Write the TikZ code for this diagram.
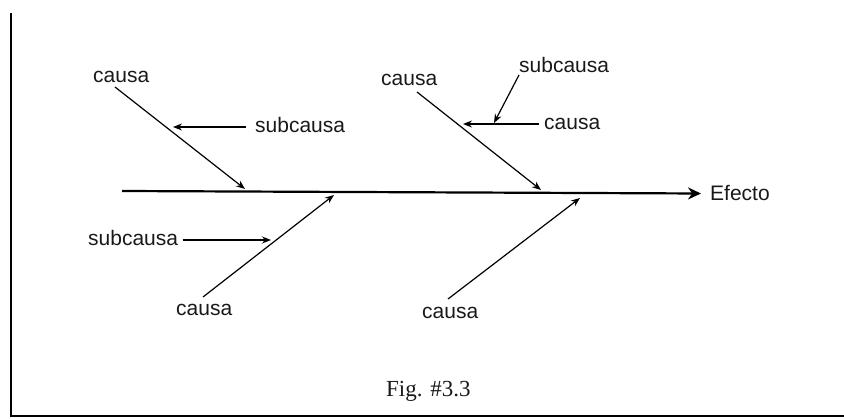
\documentclass[tikz,border=0pt]{standalone}
\usepackage{fontspec}
\setmainfont{Liberation Sans}
\newfontfamily\figfont{Liberation Serif}
\usetikzlibrary{arrows.meta,calc}

\begin{document}
\begin{tikzpicture}[x=1pt,y=-1pt,
    texto/.style={anchor=base west,inner sep=0pt,text=black!90,font=\fontsize{21}{25}\selectfont},
    rama/.style={draw,line width=1.2pt,-{Stealth[length=9pt,width=7pt]}}]
    \useasboundingbox(0,0)rectangle(844,419);
    % marco
    \path[draw,line width=1.4pt](11,13)to(11,416)to(844,416);
    % espina
    \coordinate(s0)at(122,191);
    \node[texto](efecto)at(710,201){Efecto};
    \path[draw,line width=2.2pt,-{Stealth[length=13pt,width=12pt]}](s0)to([xshift=-9pt]efecto.west);
    % causa 1 (arriba izquierda)
    \node[texto](c1)at(93,83){causa};
    \coordinate(c1a)at(115,87);
    \coordinate(c1b)at(245,189);
    \path[rama](c1a)to(c1b);
    \node[texto](sc1)at(255,133){subcausa};
    \coordinate(sc1b)at(173,127);
    \path[rama]([xshift=-9pt]sc1.west|-sc1b)to(sc1b);
    % causa 2 (arriba derecha)
    \node[texto](c2)at(381,86){causa};
    \coordinate(c2a)at(417,92);
    \coordinate(c2b)at(541,190);
    \path[rama](c2a)to(c2b);
    \node[texto](c2s)at(544,130){causa};
    \coordinate(c2sb)at(463,124);
    \path[rama]([xshift=-5pt]c2s.west|-c2sb)to(c2sb);
    \node[texto](sc2)at(519,73){subcausa};
    \coordinate(sc2a)at(519,75);
    \coordinate(sc2b)at(494,123);
    \path[rama](sc2a)to(sc2b);
    % causa 3 (abajo izquierda)
    \node[texto](c3)at(176,316){causa};
    \coordinate(c3a)at(203,297);
    \coordinate(c3b)at(334,195);
    \path[rama](c3a)to(c3b);
    \node[texto](sc3)at(88,246){subcausa};
    \coordinate(sc3b)at(271,240);
    \path[rama]([xshift=5pt]sc3.east|-sc3b)to(sc3b);
    % causa 4 (abajo derecha)
    \node[texto](c4)at(422,319){causa};
    \coordinate(c4a)at(448,299);
    \coordinate(c4b)at(580,198);
    \path[rama](c4a)to(c4b);
    % pie
    \node[anchor=base west,inner sep=0pt,text=black!90,font=\figfont\fontsize{23}{27}\selectfont](fig)at(386,397){Fig. \#3.3};
\end{tikzpicture}
\end{document}
